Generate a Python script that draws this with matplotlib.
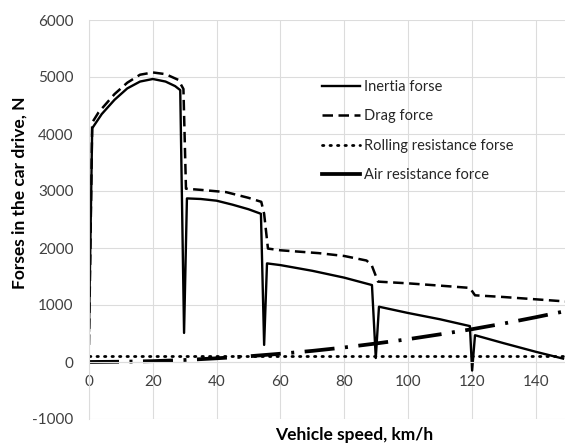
import matplotlib.pyplot as plt

# Vehicle speed, km/h and forces, N
inertia_speed = [0, 1, 4, 8, 12, 16, 20, 24, 27, 28.6, 29.8, 30.7, 35, 40, 45, 50, 53.9,
                 54.9, 55.8, 60, 70, 80, 88.7, 89.9, 90.9, 100, 110, 119.4, 120.1, 121,
                 130, 140, 148.6]
inertia_force = [550, 4100, 4350, 4600, 4800, 4920, 4965, 4920, 4840, 4770, 510, 2870,
                 2860, 2830, 2760, 2680, 2600, 300, 1730, 1700, 1600, 1480, 1350, 70,
                 970, 860, 750, 630, -150, 470, 330, 180, 60]

drag_speed = [0, 1, 3, 8, 12, 16, 20, 24, 28, 29.6, 30.4, 35, 43, 50, 54, 54.9, 56.1,
              60, 72, 80, 87, 88.6, 90.6, 100, 110, 119.4, 121, 130, 140, 150]
drag_force = [300, 4200, 4380, 4700, 4900, 5040, 5080, 5050, 4950, 4790, 3040, 3020,
              2980, 2880, 2810, 2600, 1990, 1960, 1910, 1860, 1780, 1700, 1410, 1380,
              1340, 1300, 1170, 1140, 1100, 1060]

rolling_speed = [0, 50, 100, 150]
rolling_force = [110, 110, 110, 110]

air_speed = [0, 10, 20, 30, 40, 50, 60, 70, 80, 90, 100, 110, 120, 130, 140, 150]
air_force = [0, 5, 15, 35, 65, 100, 145, 195, 255, 325, 400, 485, 575, 675, 785, 900]

plt.rcParams['font.family'] = ['Lato', 'DejaVu Sans']
plt.rcParams['axes.unicode_minus'] = False

fig = plt.figure(figsize=(5.65, 4.47), dpi=100)
ax = fig.add_axes([89 / 565, 1 - 419 / 447, 478.5 / 565, 399 / 447])

ax.plot(inertia_speed, inertia_force, color='black', lw=1.7, label='Inertia forse')
ax.plot(drag_speed, drag_force, color='black', lw=1.8, linestyle=(0, (4.2, 2.2)),
        label='Drag force')
ax.plot(rolling_speed, rolling_force, color='black', lw=2.0, linestyle=(0, (0.5, 2.2)),
        dash_capstyle='round', label='Rolling resistance forse')
ax.plot(air_speed, air_force, color='black', lw=2.7, linestyle=(0, (8, 2.8, 0.8, 2.8)),
        label='Air resistance force')

ax.set_xlim(0, 150)
ax.set_ylim(-1000, 6000)
ax.set_xticks(range(0, 141, 20))
ax.set_yticks(range(-1000, 6001, 1000))

# Excel-like axes: light grid, category axis crossing at zero
ax.grid(True, color='#dcdcdc', lw=0.8)
ax.set_axisbelow(True)
for side in ['top', 'right']:
    ax.spines[side].set_visible(False)
ax.spines['left'].set_color('#dcdcdc')
ax.spines['bottom'].set_position(('data', 0))
ax.spines['bottom'].set_color('#dcdcdc')
ax.tick_params(length=0, labelsize=11, labelcolor='#404040')
ax.tick_params(axis='x', pad=9)
ax.tick_params(axis='y', pad=11)

fig.text(20 / 565, 1 - 193 / 447, 'Forses in the car drive, N', rotation=90,
         ha='center', va='center', fontsize=12.5, fontweight='bold')
fig.text(354 / 565, 1 - 435 / 447, 'Vehicle speed, km/h', ha='center', va='center',
         fontsize=12.5, fontweight='bold')

leg = ax.legend(loc='upper left', bbox_to_anchor=(322 / 565, 1 - 80 / 447),
                bbox_transform=fig.transFigure, frameon=False, fontsize=10.5,
                handlelength=2.6, handletextpad=0.3, labelspacing=1.05,
                borderpad=0, borderaxespad=0, labelcolor='#262626')
# Excel shows the first long dash only in the legend key
leg.get_lines()[3].set_linestyle('-')

fig.savefig('out.png', dpi=100)
